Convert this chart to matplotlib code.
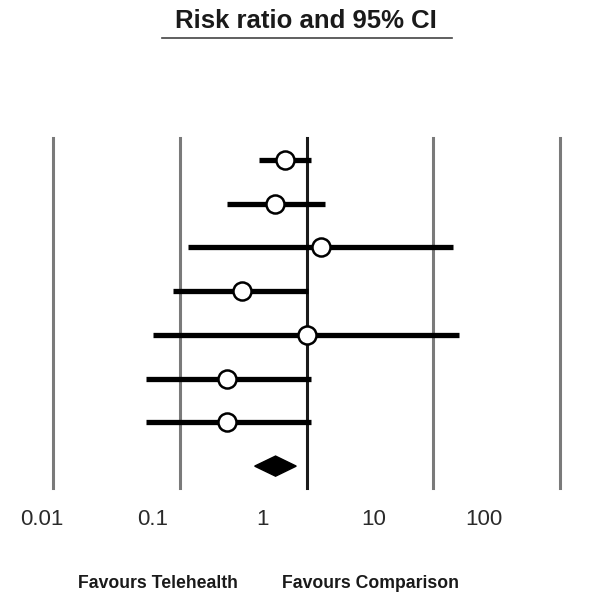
import matplotlib
matplotlib.use("Agg")
import matplotlib.pyplot as plt
from matplotlib.patches import Polygon

plt.rcParams['font.family'] = ['Liberation Sans', 'DejaVu Sans']

# ---- data ----
rr = [0.68, 0.56, 1.29, 0.31, 1.00, 0.234, 0.234]
ci_low = [0.42, 0.234, 0.117, 0.089, 0.062, 0.054, 0.054]
ci_high = [1.09, 1.41, 14.2, 1.02, 16.1, 1.09, 1.09]
pooled = 0.57
pooled_low = 0.39
pooled_high = 0.83
ref_lines = [0.01, 0.1, 1, 10, 100]
tick_labels = ["0.01", "0.1", "1", "10", "100"]
title = "Risk ratio and 95% CI"
left_label = "Favours Telehealth"
right_label = "Favours Comparison"

W, H = 608, 611
fig = plt.figure(figsize=(W / 100, H / 100), dpi=100)

def px_axes(x0, y0, x1, y1):
    return [x0 / W, 1 - y1 / H, (x1 - x0) / W, (y1 - y0) / H]

ax = fig.add_axes(px_axes(53, 138, 560, 488))
ax.set_xscale('log')
ax.set_xlim(0.01, 100)
n = len(rr)
ax.set_ylim(n + 0.5, -0.5)
ax.axis('off')

for v in ref_lines:
    if v == 1:
        ax.axvline(v, color='#1a1a1a', lw=2.2, clip_on=False, zorder=1)
    else:
        ax.axvline(v, color='#7a7a7a', lw=2.2, clip_on=False, zorder=1)

for i in range(n):
    ax.plot([ci_low[i], ci_high[i]], [i, i], color='black', lw=3.8,
            solid_capstyle='butt', zorder=2)
    ax.plot(rr[i], i, marker='o', ms=13, mfc='white', mec='black',
            mew=1.8, zorder=3)

h = 0.23
diamond = Polygon([(pooled_low, n), (pooled, n - h), (pooled_high, n),
                   (pooled, n + h)], closed=True, facecolor='black',
                  edgecolor='black', zorder=3)
ax.add_patch(diamond)

# tick labels on their own scale
axl = fig.add_axes(px_axes(42, 500, 484, 508))
axl.set_xscale('log')
axl.set_xlim(0.01, 100)
axl.set_xticks(ref_lines)
axl.set_xticklabels(tick_labels, fontsize=16, color='#2a2a2a')
axl.minorticks_off()
axl.tick_params(axis='x', length=0, pad=1)
axl.set_yticks([])
for s in axl.spines.values():
    s.set_visible(False)
axl.patch.set_alpha(0)

# title with underline
fig.text(306 / W, 1 - 21 / H, title, ha='center', va='center',
         fontsize=18.5, fontweight='bold', color='#1a1a1a')
fig.add_artist(plt.Line2D([162 / W, 452 / W], [1 - 38 / H, 1 - 38 / H],
                          color='#444444', lw=1.2))

fig.text(158 / W, 1 - 583 / H, left_label, ha='center', va='center',
         fontsize=12.7, fontweight='bold', color='#1a1a1a')
fig.text(370 / W, 1 - 583 / H, right_label, ha='center', va='center',
         fontsize=12.7, fontweight='bold', color='#1a1a1a')

fig.savefig('out.png', dpi=100)
